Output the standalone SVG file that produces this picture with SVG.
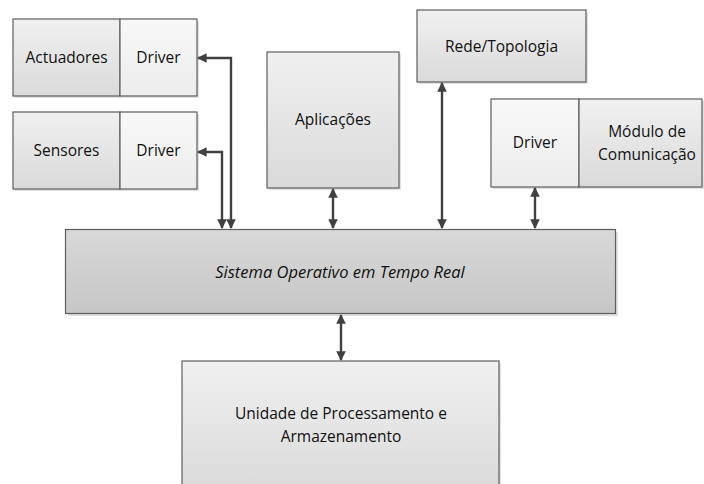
<svg xmlns="http://www.w3.org/2000/svg" width="704" height="484" viewBox="0 0 704 484">
<defs>
<linearGradient id="gBox" x1="0" y1="0" x2="0" y2="1"><stop offset="0" stop-color="#f0f0f0"/><stop offset="1" stop-color="#dadada"/></linearGradient>
<linearGradient id="gDrv" x1="0" y1="0" x2="0" y2="1"><stop offset="0" stop-color="#f8f8f8"/><stop offset="1" stop-color="#ececec"/></linearGradient>
<linearGradient id="gSO" x1="0" y1="0" x2="0" y2="1"><stop offset="0" stop-color="#d8d8d8"/><stop offset="1" stop-color="#c6c6c6"/></linearGradient>
<marker id="ah" viewBox="0 0 10 10" refX="9" refY="5" markerWidth="4" markerHeight="4" orient="auto-start-reverse" markerUnits="strokeWidth"><path d="M0,0 L10,5 L0,10 z" fill="#404040"/></marker>
</defs>
<style>
.box{fill:url(#gBox);stroke:#5e5e5e;stroke-width:1.2}
.drv{fill:url(#gDrv);stroke:#5e5e5e;stroke-width:1.2}
.so{fill:url(#gSO);stroke:#5e5e5e;stroke-width:1.2}
.sh{fill:#000;opacity:0.12}
text{font-family:"Open Sans","Liberation Sans",sans-serif;font-size:15.5px;fill:#111;text-anchor:middle}
.it{font-style:italic;font-size:16.5px}
.c{fill:none;stroke:#404040;stroke-width:2.4;marker-start:url(#ah);marker-end:url(#ah)}
</style>
<g id="actuadores">
<rect class="sh" x="15" y="21" width="184" height="77"/>
<rect class="box" x="13" y="19" width="107" height="77"/>
<text x="66.5" y="63">Actuadores</text>
</g>
<g id="driver-actuadores">
<rect class="drv" x="120" y="19" width="77" height="77"/>
<text x="158.5" y="63">Driver</text>
</g>
<g id="sensores">
<rect class="sh" x="15" y="114" width="184" height="77"/>
<rect class="box" x="13" y="112" width="107" height="77"/>
<text x="66.5" y="156">Sensores</text>
</g>
<g id="driver-sensores">
<rect class="drv" x="120" y="112" width="77" height="77"/>
<text x="158.5" y="156">Driver</text>
</g>
<g id="aplicacoes">
<rect class="sh" x="269" y="54" width="132" height="136"/>
<rect class="box" x="267" y="52" width="132" height="136"/>
<text x="333" y="125">Aplicações</text>
</g>
<g id="rede">
<rect class="sh" x="419" y="12" width="169" height="72"/>
<rect class="box" x="417" y="10" width="169" height="72"/>
<text x="501.5" y="52">Rede/Topologia</text>
</g>
<g id="driver-comunicacao">
<rect class="sh" x="493" y="101" width="212" height="88"/>
<rect class="drv" x="491" y="99" width="88" height="88"/>
<text x="535" y="148">Driver</text>
</g>
<g id="modulo">
<rect class="box" x="579" y="99" width="123" height="88"/>
<text x="647" y="137">Módulo de</text>
<text x="647" y="160">Comunicação</text>
</g>
<g id="so">
<rect class="sh" x="68" y="232" width="550" height="84"/>
<rect class="so" x="65.5" y="229.5" width="550" height="84"/>
<text class="it" x="340" y="278">Sistema Operativo em Tempo Real</text>
</g>
<g id="unidade">
<rect class="sh" x="184" y="363" width="317" height="130"/>
<rect class="box" x="182" y="361" width="317" height="130"/>
<text x="341" y="419">Unidade de Processamento e</text>
<text x="341" y="442">Armazenamento</text>
</g>
<g id="connectors">
<path class="c" d="M231,228 V58 H198"/>
<path class="c" d="M222,228 V152 H198"/>
<path class="c" d="M333,189 V228"/>
<path class="c" d="M442,83 V228"/>
<path class="c" d="M535,188 V228"/>
<path class="c" d="M341,315 V360"/>
</g>
</svg>
